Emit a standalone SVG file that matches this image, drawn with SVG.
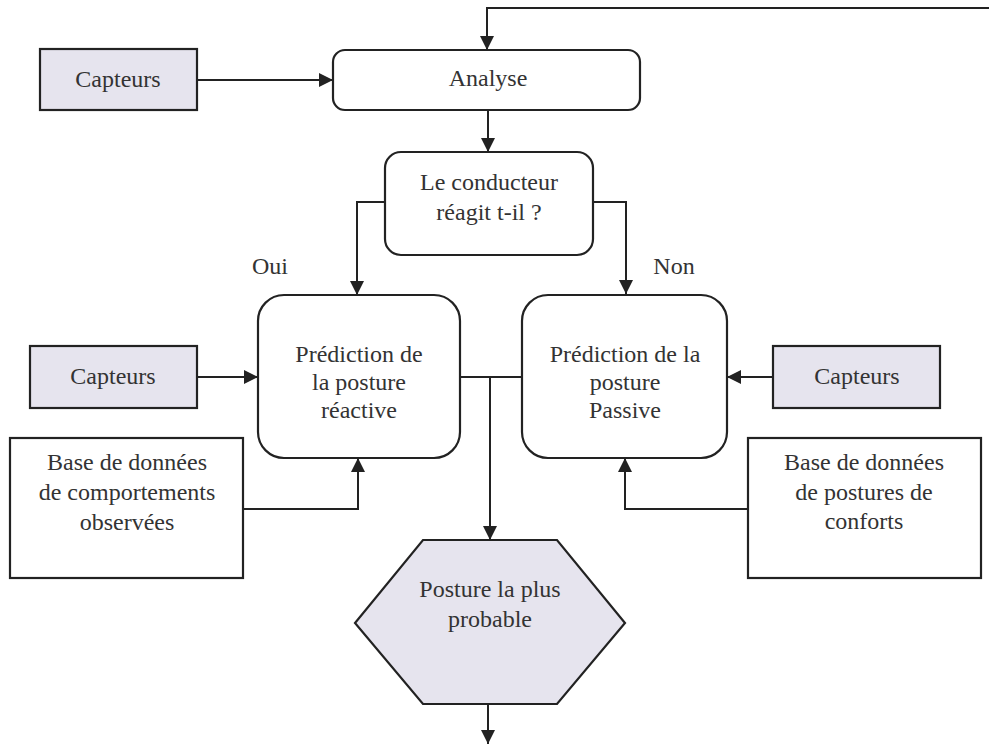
<svg xmlns="http://www.w3.org/2000/svg" width="989" height="744" viewBox="0 0 989 744">
<defs>
<style>
.box{fill:#fff;stroke:#222;stroke-width:2.2}
.gray{fill:#e6e4ee;stroke:#222;stroke-width:2.2}
.c{fill:none;stroke:#222;stroke-width:2}
</style>
<marker id="ah" viewBox="0 0 14 14" refX="14" refY="7" markerWidth="14" markerHeight="14" markerUnits="userSpaceOnUse" orient="auto">
<path d="M0,0 L14,7 L0,14 Z" fill="#222"/>
</marker>
</defs>
<rect width="989" height="744" fill="#fff"/>
<g id="connectors">
<path class="c" d="M989,8 H487 V50" marker-end="url(#ah)"/>
<path class="c" d="M197,80 H333" marker-end="url(#ah)"/>
<path class="c" d="M488,110 V152" marker-end="url(#ah)"/>
<path class="c" d="M385,202 H357 V295" marker-end="url(#ah)"/>
<path class="c" d="M593,202 H626 V294" marker-end="url(#ah)"/>
<path class="c" d="M197,377 H258" marker-end="url(#ah)"/>
<path class="c" d="M773,377 H727" marker-end="url(#ah)"/>
<path class="c" d="M243,509 H358 V458" marker-end="url(#ah)"/>
<path class="c" d="M748,509 H625 V458" marker-end="url(#ah)"/>
<path class="c" d="M460,377 H522"/>
<path class="c" d="M490,377 V540" marker-end="url(#ah)"/>
<path class="c" d="M488,704 V744" marker-end="url(#ah)"/>
</g>
<g font-family="Liberation Serif" font-size="24" fill="#333" text-anchor="middle">
<g id="capteurs-top">
<rect class="gray" x="40" y="49" width="157" height="61"/>
<text x="118" y="87">Capteurs</text>
</g>
<g id="analyse">
<rect class="box" x="333" y="50" width="307" height="60" rx="12"/>
<text x="488" y="86">Analyse</text>
</g>
<g id="conducteur">
<rect class="box" x="385" y="152" width="208" height="103" rx="16"/>
<text x="489" y="190">Le conducteur</text>
<text x="489" y="220">réagit t-il ?</text>
</g>
<g id="oui"><text x="270" y="274">Oui</text></g>
<g id="non"><text x="674" y="274">Non</text></g>
<g id="pred-reactive">
<rect class="box" x="258" y="295" width="202" height="163" rx="26"/>
<text x="359" y="362">Prédiction de</text>
<text x="359" y="390">la posture</text>
<text x="359" y="418">réactive</text>
</g>
<g id="pred-passive">
<rect class="box" x="522" y="295" width="205" height="163" rx="26"/>
<text x="625" y="362">Prédiction de la</text>
<text x="625" y="390">posture</text>
<text x="625" y="418">Passive</text>
</g>
<g id="capteurs-left">
<rect class="gray" x="30" y="346" width="167" height="62"/>
<text x="113" y="384">Capteurs</text>
</g>
<g id="capteurs-right">
<rect class="gray" x="773" y="346" width="167" height="62"/>
<text x="857" y="384">Capteurs</text>
</g>
<g id="base-left">
<rect class="box" x="10" y="438" width="233" height="140"/>
<text x="127" y="470">Base de données</text>
<text x="127" y="500">de comportements</text>
<text x="127" y="530">observées</text>
</g>
<g id="base-right">
<rect class="box" x="748" y="438" width="233" height="140"/>
<text x="864" y="470">Base de données</text>
<text x="864" y="500">de postures de</text>
<text x="864" y="529">conforts</text>
</g>
<g id="posture">
<polygon class="gray" points="423,540 557,540 625,623 557,704 423,704 355,623"/>
<text x="490" y="597">Posture la plus</text>
<text x="490" y="627">probable</text>
</g>
</g>
</svg>
